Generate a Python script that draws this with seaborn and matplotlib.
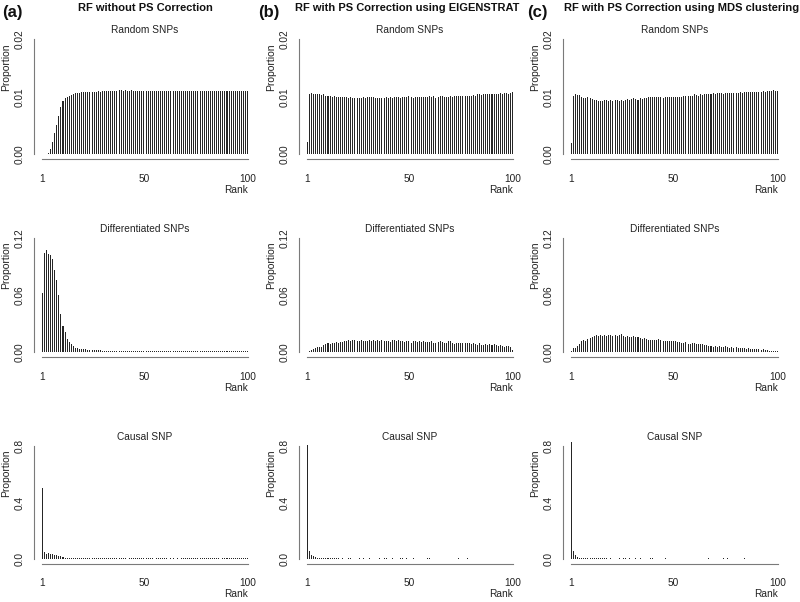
import numpy as np
import pandas as pd
import matplotlib
matplotlib.use("Agg")
import matplotlib.pyplot as plt
import seaborn as sns

ranks = list(range(1, 101))

# (a) RF without PS correction
a_random = [
    0.0000, 0.00002, 0.0001, 0.0003, 0.0009, 0.0022, 0.0037, 0.0051, 0.0067, 0.0083,
    0.0092, 0.0097, 0.0099, 0.0101, 0.0103, 0.0105, 0.0106, 0.0107, 0.0107, 0.0108,
    0.0108, 0.0108, 0.0109, 0.0109, 0.0109, 0.0109, 0.0109, 0.0110, 0.0109, 0.0110,
    0.0110, 0.0110, 0.0110, 0.0110, 0.0110, 0.0110, 0.0110, 0.0111, 0.0111, 0.0110,
    0.0111, 0.0110, 0.0110, 0.0111, 0.0110, 0.0110, 0.0110, 0.0110, 0.0110, 0.0110,
    0.0110, 0.0110, 0.0110, 0.0110, 0.0110, 0.0110, 0.0110, 0.0110, 0.0110, 0.0110,
    0.0110, 0.0110, 0.0110, 0.0110, 0.0110, 0.0110, 0.0110, 0.0110, 0.0110, 0.0110,
    0.0110, 0.0110, 0.0110, 0.0110, 0.0110, 0.0110, 0.0110, 0.0110, 0.0110, 0.0110,
    0.0110, 0.0110, 0.0110, 0.0110, 0.0110, 0.0110, 0.0110, 0.0110, 0.0110, 0.0110,
    0.0110, 0.0110, 0.0110, 0.0110, 0.0110, 0.0110, 0.0110, 0.0110, 0.0110, 0.0110,
]
a_diff = [
    0.062, 0.104, 0.107, 0.103, 0.102, 0.098, 0.086, 0.076, 0.060, 0.040,
    0.028, 0.021, 0.014, 0.011, 0.009, 0.007, 0.005, 0.0045, 0.004, 0.0038,
    0.0035, 0.0033, 0.0030, 0.0028, 0.0026, 0.0024, 0.0023, 0.0022, 0.0021, 0.0020,
    0.0020, 0.0019, 0.0019, 0.0018, 0.0018, 0.0017, 0.0017, 0.0016, 0.0016, 0.0016,
    0.0015, 0.0015, 0.0015, 0.0014, 0.0014, 0.0014, 0.0014, 0.0013, 0.0013, 0.0013,
    0.0013, 0.0013, 0.0012, 0.0012, 0.0012, 0.0012, 0.0012, 0.0012, 0.0012, 0.0012,
    0.0012, 0.0012, 0.0012, 0.0011, 0.0011, 0.0011, 0.0011, 0.0011, 0.0011, 0.0011,
    0.0011, 0.0011, 0.0011, 0.0011, 0.0011, 0.0011, 0.0011, 0.0011, 0.0011, 0.0011,
    0.0011, 0.0011, 0.0011, 0.0011, 0.0011, 0.0011, 0.0011, 0.0011, 0.0011, 0.0011,
    0.0011, 0.0011, 0.0011, 0.0011, 0.0011, 0.0011, 0.0011, 0.0011, 0.0011, 0.0011,
]
a_causal = [
    0.50, 0.052, 0.036, 0.044, 0.038, 0.034, 0.030, 0.028, 0.024, 0.020,
    0.012, 0.010, 0.009, 0.007, 0.006, 0.006, 0.005, 0.005, 0.004, 0.004,
    0.004, 0.004, 0.004, 0.004, 0.004, 0.004, 0.004, 0.004, 0.004, 0.004,
    0.004, 0.004, 0.004, 0.004, 0.004, 0.004, 0.004, 0.004, 0.004, 0.004,
    0.004, 0.000, 0.004, 0.004, 0.004, 0.004, 0.004, 0.004, 0.004, 0.004,
    0.004, 0.004, 0.004, 0.004, 0.000, 0.004, 0.004, 0.004, 0.004, 0.004,
    0.004, 0.000, 0.004, 0.004, 0.000, 0.004, 0.000, 0.004, 0.004, 0.004,
    0.004, 0.004, 0.004, 0.004, 0.004, 0.004, 0.004, 0.004, 0.004, 0.004,
    0.004, 0.004, 0.004, 0.004, 0.004, 0.004, 0.000, 0.004, 0.004, 0.004,
    0.004, 0.004, 0.004, 0.004, 0.004, 0.004, 0.004, 0.004, 0.004, 0.004,
]

# (b) RF with PS correction using EIGENSTRAT
b_random = [
    0.0021, 0.0104, 0.0106, 0.0105, 0.0105, 0.0104, 0.0105, 0.0103, 0.0104, 0.0102,
    0.0101, 0.0102, 0.0100, 0.0101, 0.0100, 0.0100, 0.0099, 0.0100, 0.0099, 0.0100,
    0.0098, 0.0099, 0.0097, 0.0098, 0.0097, 0.0098, 0.0097, 0.0099, 0.0098, 0.0100,
    0.0099, 0.0100, 0.0099, 0.0098, 0.0097, 0.0098, 0.0098, 0.0098, 0.0099, 0.0098,
    0.0099, 0.0098, 0.0100, 0.0099, 0.0099, 0.0098, 0.0099, 0.0099, 0.0099, 0.0101,
    0.0099, 0.0098, 0.0099, 0.0100, 0.0099, 0.0100, 0.0099, 0.0100, 0.0100, 0.0101,
    0.0100, 0.0101, 0.0098, 0.0099, 0.0101, 0.0102, 0.0100, 0.0099, 0.0099, 0.0101,
    0.0100, 0.0102, 0.0101, 0.0101, 0.0101, 0.0102, 0.0102, 0.0101, 0.0102, 0.0102,
    0.0103, 0.0102, 0.0104, 0.0104, 0.0103, 0.0104, 0.0104, 0.0105, 0.0104, 0.0104,
    0.0105, 0.0104, 0.0105, 0.0106, 0.0105, 0.0106, 0.0106, 0.0105, 0.0106, 0.0108,
]
b_diff = [
    0.0007, 0.0015, 0.0028, 0.0038, 0.0045, 0.0052, 0.0060, 0.0058, 0.0078, 0.0086,
    0.0094, 0.0090, 0.0096, 0.0100, 0.0106, 0.0104, 0.0112, 0.0108, 0.0116, 0.0118,
    0.0126, 0.0122, 0.0130, 0.0128, 0.0124, 0.0120, 0.0126, 0.0118, 0.0122, 0.0120,
    0.0126, 0.0125, 0.0126, 0.0122, 0.0126, 0.0120, 0.0126, 0.0118, 0.0122, 0.0121,
    0.0112, 0.0126, 0.0128, 0.0116, 0.0126, 0.0118, 0.0120, 0.0114, 0.0118, 0.0117,
    0.0104, 0.0124, 0.0124, 0.0112, 0.0122, 0.0112, 0.0118, 0.0114, 0.0112, 0.0112,
    0.0118, 0.0104, 0.0098, 0.0112, 0.0118, 0.0112, 0.0096, 0.0100, 0.0120, 0.0118,
    0.0100, 0.0090, 0.0102, 0.0104, 0.0102, 0.0102, 0.0094, 0.0096, 0.0098, 0.0088,
    0.0098, 0.0090, 0.0082, 0.0104, 0.0082, 0.0078, 0.0084, 0.0082, 0.0088, 0.0076,
    0.0086, 0.0080, 0.0072, 0.0078, 0.0068, 0.0062, 0.0072, 0.0066, 0.0060, 0.0030,
]
b_causal = [
    0.81, 0.060, 0.028, 0.018, 0.012, 0.008, 0.006, 0.005, 0.004, 0.004,
    0.004, 0.004, 0.004, 0.004, 0.004, 0.004, 0.000, 0.004, 0.000, 0.000,
    0.004, 0.004, 0.000, 0.000, 0.000, 0.004, 0.000, 0.004, 0.000, 0.000,
    0.004, 0.000, 0.000, 0.000, 0.000, 0.004, 0.000, 0.004, 0.004, 0.000,
    0.000, 0.004, 0.000, 0.000, 0.000, 0.004, 0.004, 0.000, 0.004, 0.000,
    0.000, 0.004, 0.000, 0.000, 0.000, 0.000, 0.000, 0.000, 0.004, 0.004,
    0.000, 0.000, 0.000, 0.000, 0.000, 0.000, 0.000, 0.000, 0.000, 0.000,
    0.000, 0.000, 0.000, 0.004, 0.000, 0.000, 0.000, 0.004, 0.000, 0.000,
    0.000, 0.000, 0.000, 0.000, 0.000, 0.000, 0.000, 0.000, 0.000, 0.000,
    0.000, 0.000, 0.000, 0.000, 0.000, 0.000, 0.000, 0.000, 0.000, 0.000,
]

# (c) RF with PS correction using MDS clustering
c_random = [
    0.0019, 0.0101, 0.0104, 0.0103, 0.0103, 0.0100, 0.0097, 0.0098, 0.0099, 0.0097,
    0.0096, 0.0095, 0.0094, 0.0093, 0.0093, 0.0093, 0.0094, 0.0095, 0.0093, 0.0094,
    0.0093, 0.0094, 0.0095, 0.0093, 0.0094, 0.0092, 0.0095, 0.0096, 0.0095, 0.0096,
    0.0097, 0.0096, 0.0094, 0.0097, 0.0096, 0.0098, 0.0097, 0.0099, 0.0100, 0.0099,
    0.0099, 0.0100, 0.0099, 0.0099, 0.0098, 0.0099, 0.0100, 0.0100, 0.0100, 0.0100,
    0.0100, 0.0100, 0.0099, 0.0100, 0.0101, 0.0102, 0.0102, 0.0102, 0.0102, 0.0104,
    0.0103, 0.0102, 0.0104, 0.0103, 0.0104, 0.0105, 0.0105, 0.0104, 0.0106, 0.0105,
    0.0106, 0.0106, 0.0106, 0.0105, 0.0106, 0.0106, 0.0107, 0.0106, 0.0107, 0.0107,
    0.0107, 0.0108, 0.0107, 0.0108, 0.0108, 0.0108, 0.0109, 0.0108, 0.0109, 0.0109,
    0.0108, 0.0109, 0.0110, 0.0109, 0.0110, 0.0110, 0.0110, 0.0111, 0.0110, 0.0110,
]
c_diff = [
    0.0010, 0.0042, 0.0045, 0.0072, 0.0090, 0.0115, 0.0126, 0.0120, 0.0138, 0.0150,
    0.0162, 0.0176, 0.0180, 0.0176, 0.0186, 0.0172, 0.0184, 0.0168, 0.0180, 0.0186,
    0.0174, 0.0184, 0.0172, 0.0180, 0.0196, 0.0174, 0.0166, 0.0170, 0.0160, 0.0158,
    0.0172, 0.0160, 0.0160, 0.0148, 0.0144, 0.0150, 0.0144, 0.0130, 0.0128, 0.0134,
    0.0130, 0.0126, 0.0138, 0.0126, 0.0124, 0.0120, 0.0124, 0.0118, 0.0122, 0.0116,
    0.0122, 0.0114, 0.0112, 0.0104, 0.0104, 0.0106, 0.0088, 0.0092, 0.0102, 0.0104,
    0.0086, 0.0090, 0.0086, 0.0084, 0.0076, 0.0078, 0.0070, 0.0066, 0.0058, 0.0072,
    0.0062, 0.0072, 0.0062, 0.0056, 0.0066, 0.0054, 0.0048, 0.0060, 0.0050, 0.0052,
    0.0046, 0.0050, 0.0044, 0.0048, 0.0040, 0.0044, 0.0038, 0.0040, 0.0036, 0.0034,
    0.0036, 0.0030, 0.0034, 0.0022, 0.0026, 0.0018, 0.0012, 0.0020, 0.0016, 0.0018,
]
c_causal = [
    0.83, 0.058, 0.030, 0.012, 0.008, 0.006, 0.005, 0.004, 0.004, 0.004,
    0.004, 0.004, 0.004, 0.004, 0.004, 0.004, 0.004, 0.004, 0.000, 0.004,
    0.000, 0.000, 0.000, 0.004, 0.000, 0.004, 0.004, 0.000, 0.004, 0.000,
    0.000, 0.004, 0.000, 0.004, 0.000, 0.000, 0.000, 0.000, 0.004, 0.004,
    0.000, 0.000, 0.000, 0.000, 0.000, 0.004, 0.000, 0.000, 0.000, 0.000,
    0.000, 0.000, 0.000, 0.000, 0.000, 0.000, 0.000, 0.000, 0.000, 0.000,
    0.000, 0.000, 0.000, 0.000, 0.000, 0.000, 0.004, 0.000, 0.000, 0.000,
    0.000, 0.000, 0.000, 0.004, 0.000, 0.004, 0.000, 0.000, 0.000, 0.000,
    0.000, 0.000, 0.000, 0.004, 0.000, 0.000, 0.000, 0.000, 0.000, 0.000,
    0.000, 0.000, 0.000, 0.000, 0.000, 0.000, 0.000, 0.000, 0.000, 0.000,
]

col_titles = ["RF without PS Correction",
              "RF with PS Correction using EIGENSTRAT",
              "RF with PS Correction using MDS clustering"]
col_tags = ["(a)", "(b)", "(c)"]
row_titles = ["Random SNPs", "Differentiated SNPs", "Causal SNP"]
row_max = [0.02, 0.12, 0.8]
row_ticklabels = [["0.00", "0.01", "0.02"], ["0.00", "0.06", "0.12"], ["0.0", "0.4", "0.8"]]
panels = [[a_random, b_random, c_random],
          [a_diff, b_diff, c_diff],
          [a_causal, b_causal, c_causal]]

sns.set_style("white")
plt.rcParams["font.family"] = ["Liberation Sans", "DejaVu Sans"]

W, H = 800, 602
fig = plt.figure(figsize=(8, 6.02), dpi=100)

# pixel boxes of plot regions (left, right) / (top, bottom)
cols_px = [(34, 256), (299, 521), (563, 786)]
rows_px = [(34.4, 159), (233.4, 357), (441.5, 563.5)]
axis_col = "#7a7a7a"
bar_col = "#262626"
txt_col = "#222222"

for r, (top, bot) in enumerate(rows_px):
    for c, (left, right) in enumerate(cols_px):
        ax = fig.add_axes([left / W, 1 - bot / H, (right - left) / W, (bot - top) / H])
        df = pd.DataFrame({"rank": ranks, "prop": panels[r][c]})
        sns.histplot(data=df, x="rank", weights="prop", discrete=True, shrink=0.5,
                     color=bar_col, alpha=1, linewidth=0, ax=ax)
        ymax = row_max[r]
        ax.set_xlim(1 - 0.04 * 99, 100 + 0.04 * 99)
        ax.set_ylim(-0.04 * ymax, 1.04 * ymax)
        for s in ["top", "right"]:
            ax.spines[s].set_visible(False)
        for s in ["left", "bottom"]:
            ax.spines[s].set_color(axis_col)
            ax.spines[s].set_linewidth(0.8)
        ax.spines["bottom"].set_bounds(1, 100)
        ax.spines["left"].set_bounds(0, ymax)
        ax.set_xticks([1, 50, 100])
        ax.set_xticklabels(["1", "50", "100"])
        ax.set_yticks([0, ymax / 2, ymax])
        ax.set_yticklabels(row_ticklabels[r], rotation=90, va="center")
        ax.tick_params(axis="both", direction="out", length=3.5, width=0.8,
                       color=axis_col, labelsize=7.3, labelcolor=txt_col)
        ax.tick_params(axis="x", pad=7)
        ax.tick_params(axis="y", pad=3)
        ax.set_title(row_titles[r], fontsize=7.3, pad=1, color=txt_col)
        ax.set_xlabel("Rank", fontsize=7.3, color=txt_col)
        ax.xaxis.label.set_ha("right")
        ax.xaxis.label.set_va("center")
        ax.xaxis.set_label_coords(0.964, -0.25)
        ax.set_ylabel("Proportion", fontsize=7.5, color=txt_col)
        ax.yaxis.label.set_ha("center")
        ax.yaxis.label.set_va("center")
        ax.yaxis.set_label_coords(-0.124, 0.74)

tag_x = [2, 258, 527]
title_x = [145.5, 407.5, 682]
for c in range(3):
    fig.text(tag_x[c] / W, 1 - 13 / H, col_tags[c], fontsize=12, fontweight="bold",
             ha="left", va="center", color="#111111")
    fig.text(title_x[c] / W, 1 - 8 / H, col_titles[c], fontsize=8.0, fontweight="bold",
             ha="center", va="center", color="#111111")

fig.savefig("out.png", dpi=100, facecolor="white")
